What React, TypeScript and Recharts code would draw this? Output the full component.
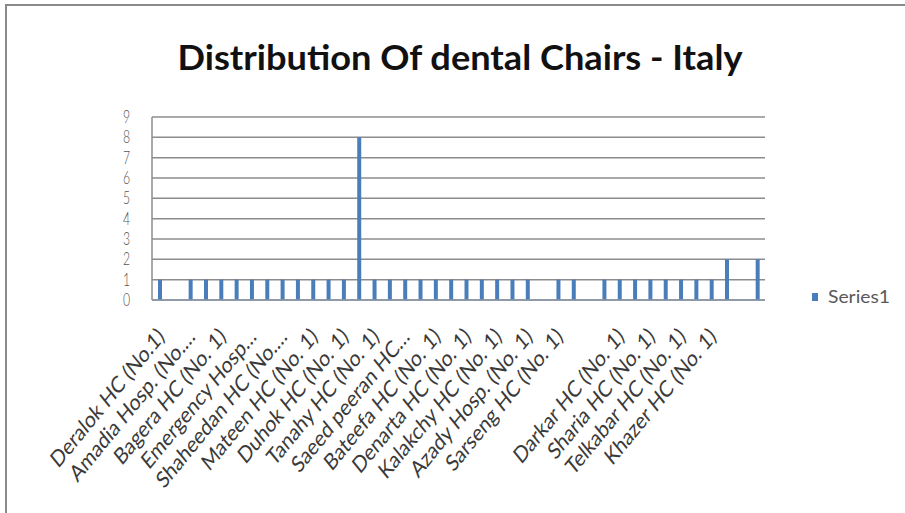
import { Bar, BarChart, CartesianGrid, Legend, XAxis, YAxis } from 'recharts'

// Dental chairs per facility (Excel-style column chart, labels on every 2nd category)
const facilities = [
	'Deralok HC (No.1)', '', 'Amadia Hosp. (No.…', '', 'Bagera HC (No. 1)', '',
	'Emergency Hosp…', '', 'Shaheedan HC (No.…', '', 'Mateen HC (No. 1)', '',
	'Duhok HC (No. 1)', '', 'Tanahy HC (No. 1)', '', 'Saeed peeran HC…', '',
	'Bateefa HC (No. 1)', '', 'Denarta HC (No. 1)', '', 'Kalakchy HC (No. 1)', '',
	'Azady Hosp. (No. 1)', '', 'Sarseng HC (No. 1)', '', '', '',
	'Darkar HC (No. 1)', '', 'Sharia HC (No. 1)', '', 'Telkabar HC (No. 1)', '',
	'Khazer HC (No. 1)', '', '', ''
]

const chairs = [
	1, 0, 1, 1, 1, 1, 1, 1, 1, 1,
	1, 1, 1, 8, 1, 1, 1, 1, 1, 1,
	1, 1, 1, 1, 1, 0, 1, 1, 0, 1,
	1, 1, 1, 1, 1, 1, 1, 2, 0, 2
]

const yTicks = [0, 1, 2, 3, 4, 5, 6, 7, 8, 9]

const TITLE = 'Distribution Of dental Chairs - Italy'
const SERIES_NAME = 'Series1'
const BAR_BLUE = '#4a7ebb'

// the source screenshot is squeezed horizontally, so text is drawn narrower
const SQUEEZE = 0.82

const data = facilities.map((name, i) => ({ name, chairs: chairs[i] }))

function RotatedTick({ x, y, payload }: any) {
	const ax = x + 6
	const ay = y + 38
	return (
		<text
			transform={`translate(${ax}, ${ay}) scale(${SQUEEZE}, 1) rotate(-45)`}
			textAnchor="end"
			fontFamily="Lato, 'Open Sans', sans-serif"
			fontSize={23}
			fill="#3a3a3a"
		>
			{payload.value}
		</text>
	)
}

function ValueTick({ x, y, payload }: any) {
	return (
		<text
			transform={`translate(${x}, ${y + 6}) scale(0.72, 1)`}
			textAnchor="end"
			fontFamily="Lato, 'Open Sans', sans-serif"
			fontWeight={300}
			fontSize={17}
			fill="#555"
		>
			{payload.value}
		</text>
	)
}

function SeriesLegend() {
	return (
		<svg width={92} height={26} style={{ display: 'block' }}>
			<rect x={0} y={8} width={6} height={8} fill={BAR_BLUE} />
			<text
				x={16}
				y={18}
				fontFamily="Lato, 'Open Sans', sans-serif"
				fontSize={18}
				fill="#595959"
				textLength={62}
				lengthAdjust="spacingAndGlyphs"
			>
				{SERIES_NAME}
			</text>
		</svg>
	)
}

export default function App() {
	return (
		<div style={{ position: 'absolute', left: 0, top: 0, width: 905, height: 513, background: '#fff' }}>
			{/* frame lines visible on top and left of the original screenshot */}
			<div
				style={{
					position: 'absolute',
					left: 5,
					top: 4,
					right: 0,
					bottom: 0,
					borderTop: '2px solid #8a8a8a',
					borderLeft: '2px solid #8a8a8a'
				}}
			/>
			<svg width={905} height={90} style={{ position: 'absolute', left: 0, top: 0 }}>
				<text
					x={460}
					y={70}
					textAnchor="middle"
					fontFamily="Lato, 'Open Sans', sans-serif"
					fontWeight={700}
					fontSize={35}
					fill="#111"
					textLength={565}
					lengthAdjust="spacingAndGlyphs"
				>
					{TITLE}
				</text>
			</svg>
			<div style={{ position: 'absolute', left: 0, top: 0 }}>
				<BarChart
					width={905}
					height={513}
					data={data}
					margin={{ top: 117, right: 48, bottom: 0, left: 0 }}
					barCategoryGap={0}
				>
					<CartesianGrid vertical={false} stroke="#8c8c8c" strokeWidth={1.5} />
					<XAxis
						dataKey="name"
						interval={1}
						tickLine={false}
						tickSize={0}
						tickMargin={0}
						height={213}
						axisLine={{ stroke: '#8a96a8', strokeWidth: 1.5 }}
						tick={<RotatedTick />}
					/>
					<YAxis
						width={152}
						domain={[0, 9]}
						ticks={yTicks}
						interval={0}
						tickLine={false}
						tickSize={0}
						tickMargin={22}
						axisLine={{ stroke: '#8c8c8c', strokeWidth: 1.5 }}
						tick={<ValueTick />}
					/>
					<Legend
						layout="vertical"
						align="right"
						verticalAlign="middle"
						content={<SeriesLegend />}
						wrapperStyle={{ left: 812, top: 285, width: 92 }}
					/>
					<Bar
						dataKey="chairs"
						name={SERIES_NAME}
						fill={BAR_BLUE}
						barSize={4}
						isAnimationActive={false}
					/>
				</BarChart>
			</div>
		</div>
	)
}
